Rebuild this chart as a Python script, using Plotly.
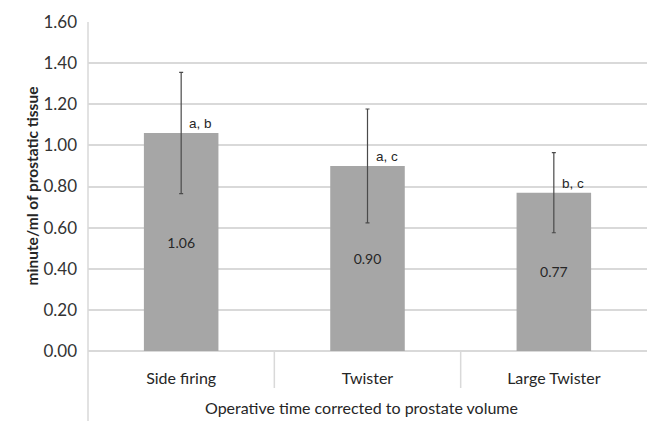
import plotly.graph_objects as go

categories = ["Side firing", "Twister", "Large Twister"]
means = [1.06, 0.90, 0.77]
errors = [0.295, 0.277, 0.195]
value_labels = ["1.06", "0.90", "0.77"]
sig_labels = ["a, b", "a, c", "b, c"]
y_ticks = [0.0, 0.2, 0.4, 0.6, 0.8, 1.0, 1.2, 1.4, 1.6]
y_tick_text = ["0.00", "0.20", "0.40", "0.60", "0.80", "1.00", "1.20", "1.40", "1.60"]
x_title = "Operative time corrected to prostate volume"
y_title = "minute/ml of prostatic tissue"

FONT = "Lato, 'Open Sans', sans-serif"
ARIAL = "'Liberation Sans', Arial, sans-serif"
W, H = 647, 421
L, R, T, B = 88, 0, 22, 70
plot_h = H - T - B
plot_w = W - L - R

fig = go.Figure()
fig.add_trace(go.Bar(
    x=categories, y=means,
    width=0.4,
    marker=dict(color="#a6a6a6", line=dict(width=0)),
    text=value_labels, textposition="inside", insidetextanchor="middle",
    textangle=0,
    textfont=dict(family=FONT, size=14, color="#262626"),
    error_y=dict(type="data", array=errors, visible=True,
                 color="#4a4a4a", thickness=1.2, width=2),
    hoverinfo="skip",
))

for c, m, s in zip(categories, means, sig_labels):
    fig.add_annotation(x=c, y=m, text=s, showarrow=False,
                       xanchor="left", yanchor="bottom",
                       xshift=6, yshift=0,
                       font=dict(family=ARIAL, size=13.5, color="#262626"))

grid = "#d9d9d9"
# vertical axis line extending to bottom
fig.add_shape(type="line", xref="paper", yref="paper",
              x0=0, x1=0, y0=-B / plot_h, y1=1,
              line=dict(color=grid, width=1.5))
# category dividers
for xb in [0.5, 1.5]:
    fig.add_shape(type="line", xref="x", yref="paper",
                  x0=xb, x1=xb, y0=0, y1=-37 / plot_h,
                  line=dict(color=grid, width=1.5))

fig.add_annotation(xref="paper", yref="paper",
                   x=(361 - L) / plot_w, y=-(408 - (H - B)) / plot_h,
                   text=x_title, showarrow=False,
                   xanchor="center", yanchor="middle",
                   font=dict(family=FONT, size=16, color="#262626"))
fig.add_annotation(xref="paper", yref="paper",
                   x=(31 - L) / plot_w, y=0.5,
                   text="<b>" + y_title + "</b>", showarrow=False, textangle=-90,
                   xanchor="center", yanchor="middle",
                   font=dict(family=FONT, size=15.5, color="#262626"))

fig.update_layout(
    width=W, height=H,
    margin=dict(l=L, r=R, t=T, b=B, pad=0),
    paper_bgcolor="white", plot_bgcolor="white",
    showlegend=False,
    xaxis=dict(type="category", range=[-0.5, 2.5], showgrid=False,
               showline=False, zeroline=False, ticks="",
               ticklabelstandoff=16,
               tickfont=dict(family=FONT, size=16, color="#262626")),
    yaxis=dict(range=[0, 1.6], tickmode="array", tickvals=y_ticks,
               ticktext=y_tick_text, showgrid=True, gridcolor=grid,
               gridwidth=1.5, zeroline=True, zerolinecolor=grid,
               zerolinewidth=1.5, showline=False, ticks="",
               ticklabelstandoff=10,
               tickfont=dict(family=FONT, size=17, color="#333333")),
)

fig.write_html("out.html", config={"displayModeBar": False},
               post_script="document.body.style.margin='0';document.body.style.padding='0';")
